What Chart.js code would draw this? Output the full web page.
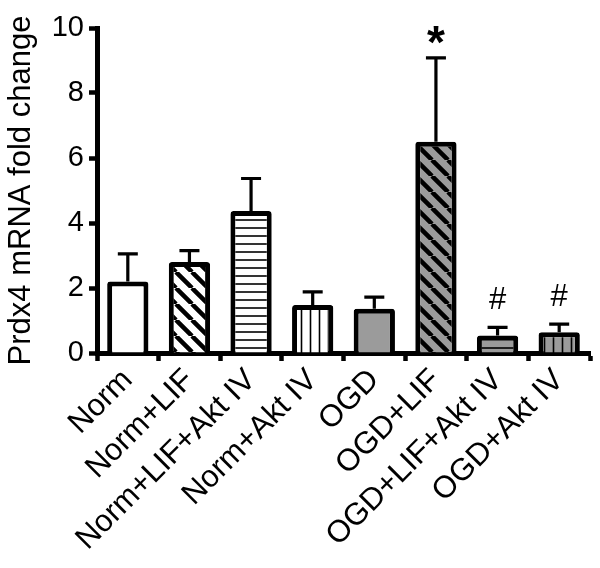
<!DOCTYPE html>
<html>
<head>
<meta charset="utf-8">
<script src="https://cdn.jsdelivr.net/npm/chart.js@4"></script>
<style>
  html, body { margin: 0; padding: 0; background: #fff; }
  #chart { display: block; }
</style>
</head>
<body>
<canvas id="chart" width="600" height="568"></canvas>
<script>
const categories = ['Norm', 'Norm+LIF', 'Norm+LIF+Akt IV', 'Norm+Akt IV', 'OGD', 'OGD+LIF', 'OGD+LIF+Akt IV', 'OGD+Akt IV'];
const foldChange = [2.2, 2.8, 4.37, 1.48, 1.36, 6.5, 0.54, 0.64];
const sem        = [0.85, 0.35, 1.0, 0.4, 0.36, 2.58, 0.25, 0.25];
const markers    = ['', '', '', '', '', '*', '#', '#'];
const yTicks     = [0, 2, 4, 6, 8, 10];

const FONT = "'Liberation Sans', Arial, sans-serif";
const GRAY = '#9b9b9b';

// fill style per bar: base colour + hatch kind
const barStyles = [
  ['#fff', null], ['#fff', 'diag'], ['#fff', 'horiz'], ['#fff', 'vert'],
  [GRAY, null],   [GRAY, 'diag'],   [GRAY, 'horiz'],   [GRAY, 'vert'],
];

function makePattern(bg, kind) {
  if (!kind) return bg;
  const c = document.createElement('canvas');
  const ctx = c.getContext('2d');
  const s = kind === 'diag' ? 16 : kind === 'horiz' ? 8 : 9;
  c.width = s; c.height = s;
  ctx.fillStyle = bg;
  ctx.fillRect(0, 0, s, s);
  ctx.strokeStyle = '#000';
  ctx.beginPath();
  if (kind === 'diag') {
    ctx.lineWidth = 4.5;
    for (let k = -1; k <= 1; k++) { ctx.moveTo(k * s, 0); ctx.lineTo(k * s + s, s); }
  } else if (kind === 'horiz') {
    ctx.lineWidth = 1.6;
    ctx.moveTo(0, s / 2); ctx.lineTo(s, s / 2);
  } else {
    ctx.lineWidth = 1.6;
    ctx.moveTo(s / 2, 0); ctx.lineTo(s / 2, s);
  }
  ctx.stroke();
  return ctx.createPattern(c, 'repeat');
}

const errorBars = {
  id: 'errorBars',
  afterDatasetsDraw(chart) {
    const { ctx, scales: { x, y } } = chart;
    ctx.save();
    ctx.strokeStyle = '#000';
    ctx.fillStyle = '#000';
    ctx.lineWidth = 3.2;
    foldChange.forEach((v, i) => {
      const cx = x.getPixelForValue(i);
      const yb = y.getPixelForValue(v);
      const yt = y.getPixelForValue(v + sem[i]);
      ctx.beginPath();
      ctx.moveTo(cx, yb); ctx.lineTo(cx, yt);
      ctx.moveTo(cx - 10, yt); ctx.lineTo(cx + 10, yt);
      ctx.stroke();
      const m = markers[i];
      if (m) {
        ctx.textAlign = 'center';
        ctx.textBaseline = 'alphabetic';
        if (m === '*') {
          ctx.font = 'bold 46px ' + FONT;
          ctx.fillText(m, cx, yt);
        } else {
          ctx.font = '31px ' + FONT;
          ctx.fillText(m, cx, yt - 18);
        }
      }
    });
    ctx.restore();
  }
};

new Chart(document.getElementById('chart'), {
  type: 'bar',
  data: {
    labels: categories,
    datasets: [{
      data: foldChange,
      backgroundColor: barStyles.map(([bg, kind]) => makePattern(bg, kind)),
      borderColor: '#000',
      borderWidth: 5,
      borderRadius: 3,
      categoryPercentage: 1,
      barPercentage: 0.67,
    }],
  },
  options: {
    responsive: false,
    animation: false,
    layout: { padding: { top: 28, right: 10, left: 0, bottom: 0 } },
    plugins: { legend: { display: false }, tooltip: { enabled: false } },
    scales: {
      x: {
        z: 1,
        grid: { drawOnChartArea: false, drawTicks: true, tickLength: 8, tickWidth: 4.5, tickColor: '#000' },
        border: { color: '#000', width: 5 },
        ticks: { color: '#000', font: { size: 31, family: FONT }, minRotation: 45, maxRotation: 45, autoSkip: false, padding: 1 },
        afterFit: (s) => { s.height = 215; },
      },
      y: {
        min: 0, max: 10,
        afterBuildTicks: (s) => { s.ticks = yTicks.map(v => ({ value: v })); },
        grid: { drawOnChartArea: false, drawTicks: true, tickLength: 8, tickWidth: 4.5, tickColor: '#000' },
        border: { color: '#000', width: 5 },
        ticks: { color: '#000', font: { size: 29, family: FONT }, padding: 5 },
        title: { display: true, text: 'Prdx4 mRNA fold change', color: '#000', font: { size: 31, family: FONT }, padding: { top: 3, bottom: 0 } },
        afterFit: (s) => { s.width = 97; },
      },
    },
  },
  plugins: [errorBars],
});
</script>
</body>
</html>
